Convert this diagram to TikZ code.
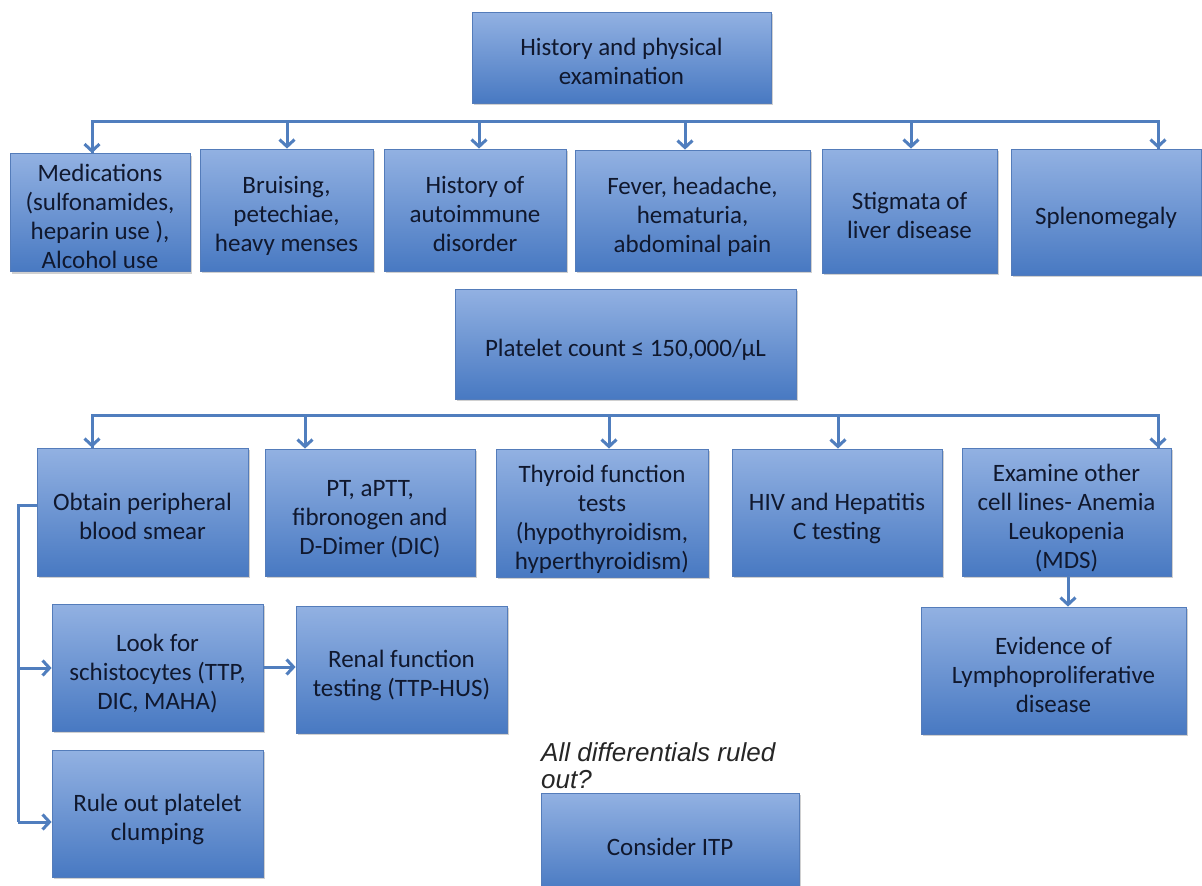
\documentclass[tikz,border=0pt]{standalone}
\usepackage{fontspec}
\setmainfont{Carlito}
\newfontfamily\itfont{Liberation Sans}
\usetikzlibrary{arrows.meta,shadows}
\definecolor{boxtop}{RGB}{146,177,226}
\definecolor{boxbot}{RGB}{72,121,194}
\definecolor{boxline}{RGB}{84,124,186}
\definecolor{lnc}{RGB}{80,126,190}
\definecolor{txt}{RGB}{16,24,46}
\begin{document}
\begin{tikzpicture}[x=1pt,y=-1pt,
  box/.style={draw=boxline,line width=0.8pt,top color=boxtop,bottom color=boxbot,
    align=center,text=txt,inner sep=1pt,
    font=\fontsize{25}{29}\selectfont,
    drop shadow={shadow xshift=1.5pt,shadow yshift=-2pt,opacity=0.3,fill=black!60}},
  conn/.style={draw=lnc,line width=3pt},
  arr/.style={conn,-{Straight Barb[length=7pt,width=15pt,line width=3pt]}}]
\useasboundingbox (0,0) rectangle (1202,886);
\fill[white] (0,0) rectangle (1202,886);
% helper: box by corners
\newcommand{\bx}[6]{\node[box,minimum width=#4-#2,minimum height=#5-#3] (#1) at ({(#2+#4)/2},{(#3+#5)/2}) {\raisebox{0pt}[\dimexpr\height+7pt\relax][\dimexpr\depth-7pt\relax]{\begin{tabular}{@{}c@{}}#6\end{tabular}}};}
\bx{top}{472}{12}{771}{103}{History and physical\\examination}
\bx{med}{10}{154}{190}{271}{Medications\\(sulfonamides,\\heparin use ),\\Alcohol use}
\bx{bru}{200}{149}{373}{271}{Bruising,\\petechiae,\\heavy menses}
\bx{aut}{384}{149}{566}{271}{History of\\autoimmune\\disorder}
\bx{fev}{575}{150}{810}{271}{Fever, headache,\\hematuria,\\abdominal pain}
\bx{sti}{822}{149}{997}{273}{Stigmata of\\liver disease}
\bx{spl}{1011}{149}{1201}{275}{Splenomegaly}
\bx{plt}{455}{289}{796}{399}{Platelet count ≤ 150,000/μL}
\bx{obt}{37}{448}{248}{576}{Obtain peripheral\\blood smear}
\bx{pt}{265}{449}{475}{576}{PT, aPTT,\\fibronogen and\\D-Dimer (DIC)}
\bx{thy}{496}{449}{708}{577}{Thyroid function\\tests\\(hypothyroidism,\\hyperthyroidism)}
\bx{hiv}{732}{449}{942}{576}{HIV and Hepatitis\\C testing}
\bx{exa}{962}{448}{1171}{576}{Examine other\\cell lines- Anemia\\Leukopenia\\(MDS)}
\bx{evi}{921}{607}{1186}{734}{Evidence of\\Lymphoproliferative\\disease}
\bx{look}{52}{604}{263}{731}{Look for\\schistocytes (TTP,\\DIC, MAHA)}
\bx{ren}{296}{606}{507}{733}{Renal function\\testing (TTP-HUS)}
\bx{rule}{52}{750}{263}{877}{Rule out platelet\\clumping}
\bx{itp}{541}{793}{799}{893}{Consider ITP}
\node[anchor=north west,align=left,inner sep=0pt,font=\itfont\itshape\fontsize{26}{27}\selectfont,text=black!85] (q) at (541,742) {All differentials ruled\\out?};
% first bus
\coordinate (a1) at (92,121);
\coordinate (a2) at (287,121);
\coordinate (a3) at (479,121);
\coordinate (a4) at (685,121);
\coordinate (a5) at (911,121);
\coordinate (a6) at (1158,121);
\draw[conn,line join=miter] (a1 |- med.north) -- (a1) -- (a6) -- (a6 |- spl.north);
\draw[arr] (a1) -- (a1 |- med.north);
\draw[arr] (a2) -- (a2 |- bru.north);
\draw[arr] (a3) -- (a3 |- aut.north);
\draw[arr] (a4) -- (a4 |- fev.north);
\draw[arr] (a5) -- (a5 |- sti.north);
\draw[arr] (a6) -- (a6 |- spl.north);
% second bus
\coordinate (b1) at (92,415);
\coordinate (b2) at (305,415);
\coordinate (b3) at (609,415);
\coordinate (b4) at (838,415);
\coordinate (b5) at (1158,415);
\draw[conn] (b1 |- obt.north) -- (b1) -- (b5) -- (b5 |- exa.north);
\draw[arr] (b1) -- (b1 |- obt.north);
\draw[arr] (b2) -- (b2 |- pt.north);
\draw[arr] (b3) -- (b3 |- thy.north);
\draw[arr] (b4) -- (b4 |- hiv.north);
\draw[arr] (b5) -- (b5 |- exa.north);
% left branch
\coordinate (l1) at (18,505);
\coordinate (l2) at (18,668);
\coordinate (l3) at (18,822);
\draw[conn] (obt.west |- l1) -- (l1) -- (l3);
\draw[arr] (l2) -- (look.west |- l2);
\draw[arr] (l1 |- l3) -- (rule.west |- l3);
\draw[arr] (look.east |- 0,667) -- (ren.west |- 0,667);
\coordinate (e1) at (1068,576);
\draw[arr] (e1 |- exa.south) -- (e1 |- evi.north);
\end{tikzpicture}
\end{document}
